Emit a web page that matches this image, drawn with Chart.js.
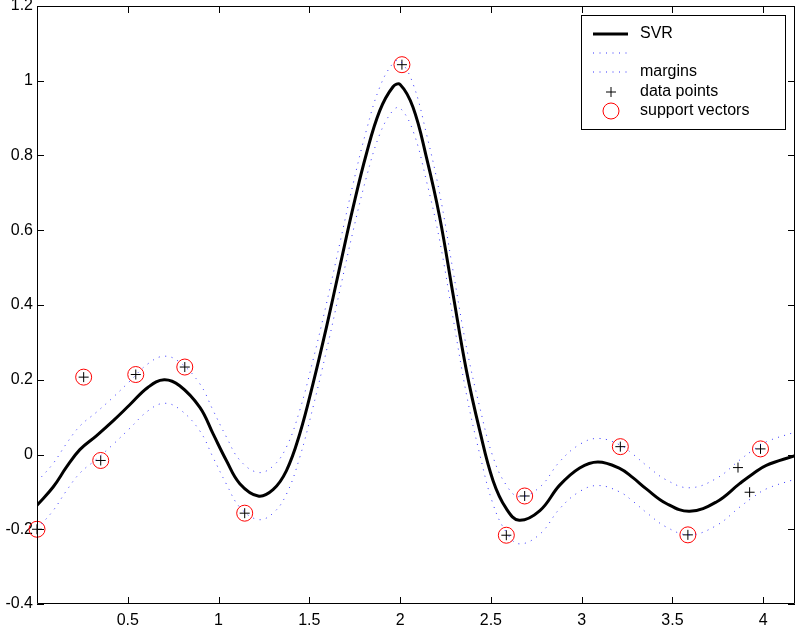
<!DOCTYPE html>
<html>
<head>
<meta charset="utf-8">
<title>SVR</title>
<script src="https://cdn.jsdelivr.net/npm/chart.js@4/dist/chart.umd.min.js"></script>
<style>
  html, body { margin: 0; padding: 0; background: #fff; }
  #wrap { width: 796px; height: 627px; }
</style>
</head>
<body>
<div id="wrap"><canvas id="svrChart" width="796" height="627"></canvas></div>
<script>
// values
const svrX = [0, 0.089, 0.162, 0.236, 0.327, 0.419, 0.511, 0.612, 0.70, 0.786, 0.897, 0.97, 1.043, 1.117, 1.218, 1.30, 1.374, 1.447, 1.52, 1.594, 1.667, 1.741, 1.814, 1.888, 1.961, 2.0, 2.071, 2.145, 2.218, 2.291, 2.365, 2.438, 2.512, 2.585, 2.656, 2.77, 2.879, 2.989, 3.09, 3.209, 3.282, 3.356, 3.466, 3.595, 3.742, 3.87, 3.942, 4.017, 4.175];
const svrY = [-0.136, -0.087, -0.034, 0.013, 0.050, 0.090, 0.133, 0.18, 0.20, 0.184, 0.126, 0.055, -0.016, -0.078, -0.111, -0.094, -0.043, 0.055, 0.189, 0.34, 0.50, 0.661, 0.804, 0.92, 0.984, 0.99, 0.929, 0.795, 0.635, 0.43, 0.225, 0.065, -0.07, -0.145, -0.176, -0.15, -0.082, -0.036, -0.02, -0.037, -0.062, -0.092, -0.131, -0.152, -0.127, -0.078, -0.052, -0.029, -0.003];
const upperY = [-0.073, -0.024, 0.029, 0.076, 0.113, 0.153, 0.196, 0.243, 0.263, 0.247, 0.189, 0.118, 0.047, -0.015, -0.048, -0.031, 0.020, 0.118, 0.252, 0.403, 0.563, 0.724, 0.867, 0.983, 1.047, 1.053, 0.992, 0.858, 0.698, 0.493, 0.288, 0.128, -0.007, -0.082, -0.113, -0.087, -0.019, 0.027, 0.043, 0.026, 0.001, -0.029, -0.068, -0.089, -0.064, -0.015, 0.011, 0.034, 0.060];
const lowerY = [-0.199, -0.150, -0.097, -0.050, -0.013, 0.027, 0.070, 0.117, 0.137, 0.121, 0.063, -0.008, -0.079, -0.141, -0.174, -0.157, -0.106, -0.008, 0.126, 0.277, 0.437, 0.598, 0.741, 0.857, 0.921, 0.927, 0.866, 0.732, 0.572, 0.367, 0.162, 0.002, -0.133, -0.208, -0.239, -0.213, -0.145, -0.099, -0.083, -0.100, -0.125, -0.155, -0.194, -0.215, -0.190, -0.141, -0.115, -0.092, -0.066];

const dataX = [0, 0.257, 0.351, 0.544, 0.814, 1.144, 2.01, 2.585, 2.686, 3.213, 3.585, 3.861, 3.925, 3.985];
const dataY = [-0.2, 0.207, -0.016, 0.214, 0.234, -0.157, 1.043, -0.216, -0.111, 0.021, -0.215, -0.035, -0.101, 0.015];

const svX = [0, 0.257, 0.351, 0.544, 0.814, 1.144, 2.01, 2.585, 2.686, 3.213, 3.585, 3.985];
const svY = [-0.2, 0.207, -0.016, 0.214, 0.234, -0.157, 1.043, -0.216, -0.111, 0.021, -0.215, 0.015];

const xTicks = [0.5, 1, 1.5, 2, 2.5, 3, 3.5, 4];
const yTicks = [-0.4, -0.2, 0, 0.2, 0.4, 0.6, 0.8, 1, 1.2];
const legendLabels = ['SVR', '', 'margins', 'data points', 'support vectors'];

const pairs = (xs, ys) => xs.map((x, i) => ({x: x, y: ys[i]}));

Chart.defaults.font.family = '"Liberation Sans", Arial, sans-serif';
Chart.defaults.font.size = 16;
Chart.defaults.color = '#000';

// box, inward ticks (matlab style) and the legend
const axesBox = {
  id: 'axesBox',
  afterDraw(chart){
    const ctx = chart.ctx;
    const a = chart.chartArea;
    const xs = chart.scales.x, ys = chart.scales.y;
    const tl = 7;
    ctx.save();
    ctx.strokeStyle = '#000';
    ctx.lineWidth = 1;
    ctx.beginPath();
    ctx.rect(Math.round(a.left) + 0.5, Math.round(a.top) + 0.5, Math.round(a.right - a.left) - 1, Math.round(a.bottom - a.top) - 1);
    ctx.stroke();
    ctx.beginPath();
    for(const v of xTicks){
      const px = Math.round(xs.getPixelForValue(v)) + 0.5;
      ctx.moveTo(px, a.bottom); ctx.lineTo(px, a.bottom - tl);
      ctx.moveTo(px, a.top); ctx.lineTo(px, a.top + tl);
    }
    for(const v of yTicks){
      const py = Math.round(ys.getPixelForValue(v)) + 0.5;
      ctx.moveTo(a.left, py); ctx.lineTo(a.left + tl, py);
      ctx.moveTo(a.right, py); ctx.lineTo(a.right - tl, py);
    }
    ctx.stroke();

    // legend
    const lx = Math.round(a.right) - 214, ly = Math.round(a.top) + 9;
    ctx.fillStyle = '#fff';
    ctx.fillRect(lx, ly, 204, 114);
    ctx.strokeRect(lx + 0.5, ly + 0.5, 204, 114);
    ctx.font = '16px "Liberation Sans", Arial, sans-serif';
    ctx.textBaseline = 'middle';
    ctx.textAlign = 'left';
    const rowY = [19, 38, 57, 77, 96];
    chart.data.datasets.forEach((ds, i) => {
      const cy = ly + rowY[i];
      const cx = lx + 30;
      ctx.save();
      ctx.strokeStyle = ds.borderColor;
      ctx.lineWidth = ds.borderWidth;
      ctx.beginPath();
      if(ds.showLine === false){
        const r = ds.pointRadius;
        if(ds.pointStyle === 'circle'){
          ctx.arc(cx, cy, r, 0, Math.PI * 2);
        } else {
          ctx.moveTo(cx - r, cy); ctx.lineTo(cx + r, cy);
          ctx.moveTo(cx, cy - r); ctx.lineTo(cx, cy + r);
        }
      } else {
        ctx.setLineDash(ds.borderDash || []);
        ctx.moveTo(lx + 12, cy); ctx.lineTo(lx + 47, cy);
      }
      ctx.stroke();
      ctx.restore();
      ctx.fillStyle = '#000';
      ctx.fillText(legendLabels[i], lx + 59, cy);
    });
    ctx.restore();
  }
};

const dotted = {
  type: 'line', borderColor: 'rgba(0,0,255,0.8)', borderWidth: 1, borderDash: [1, 5.5],
  pointRadius: 0, fill: false, tension: 0.4
};

const noPad = s => { s.paddingLeft = 0; s.paddingRight = 0; s.paddingTop = 0; s.paddingBottom = 0; };

new Chart(document.getElementById('svrChart'), {
  type: 'scatter',
  data: {
    datasets: [
      {label: 'SVR', type: 'line', data: pairs(svrX, svrY), borderColor: '#000', borderWidth: 3,
       pointRadius: 0, fill: false, tension: 0.4},
      Object.assign({label: 'upper', data: pairs(svrX, upperY)}, dotted),
      Object.assign({label: 'margins', data: pairs(svrX, lowerY)}, dotted),
      {label: 'data points', data: pairs(dataX, dataY), showLine: false, pointStyle: 'cross',
       pointRadius: 5, borderColor: '#000', borderWidth: 1, clip: false},
      {label: 'support vectors', data: pairs(svX, svY), showLine: false, pointStyle: 'circle',
       pointRadius: 8, borderColor: '#f00', backgroundColor: 'rgba(0,0,0,0)', borderWidth: 1, clip: false}
    ]
  },
  options: {
    responsive: false,
    animation: false,
    devicePixelRatio: 1,
    layout: {autoPadding: false, padding: {top: 6, right: 1, left: 0, bottom: 0}},
    plugins: {legend: {display: false}, tooltip: {enabled: false}},
    scales: {
      x: {
        type: 'linear', min: 0, max: 4.175,
        grid: {display: false, drawTicks: false},
        border: {display: false},
        ticks: {padding: 7, maxRotation: 0, callback: v => String(v)},
        afterBuildTicks: s => { s.ticks = xTicks.map(v => ({value: v})); },
        afterFit: s => { s.height = 23; noPad(s); }
      },
      y: {
        type: 'linear', min: -0.4, max: 1.2,
        grid: {display: false, drawTicks: false},
        border: {display: false},
        ticks: {padding: 4, callback: v => String(v)},
        afterBuildTicks: s => { s.ticks = yTicks.map(v => ({value: v})); },
        afterFit: s => { s.width = 37; noPad(s); }
      }
    }
  },
  plugins: [axesBox]
});
</script>
</body>
</html>
